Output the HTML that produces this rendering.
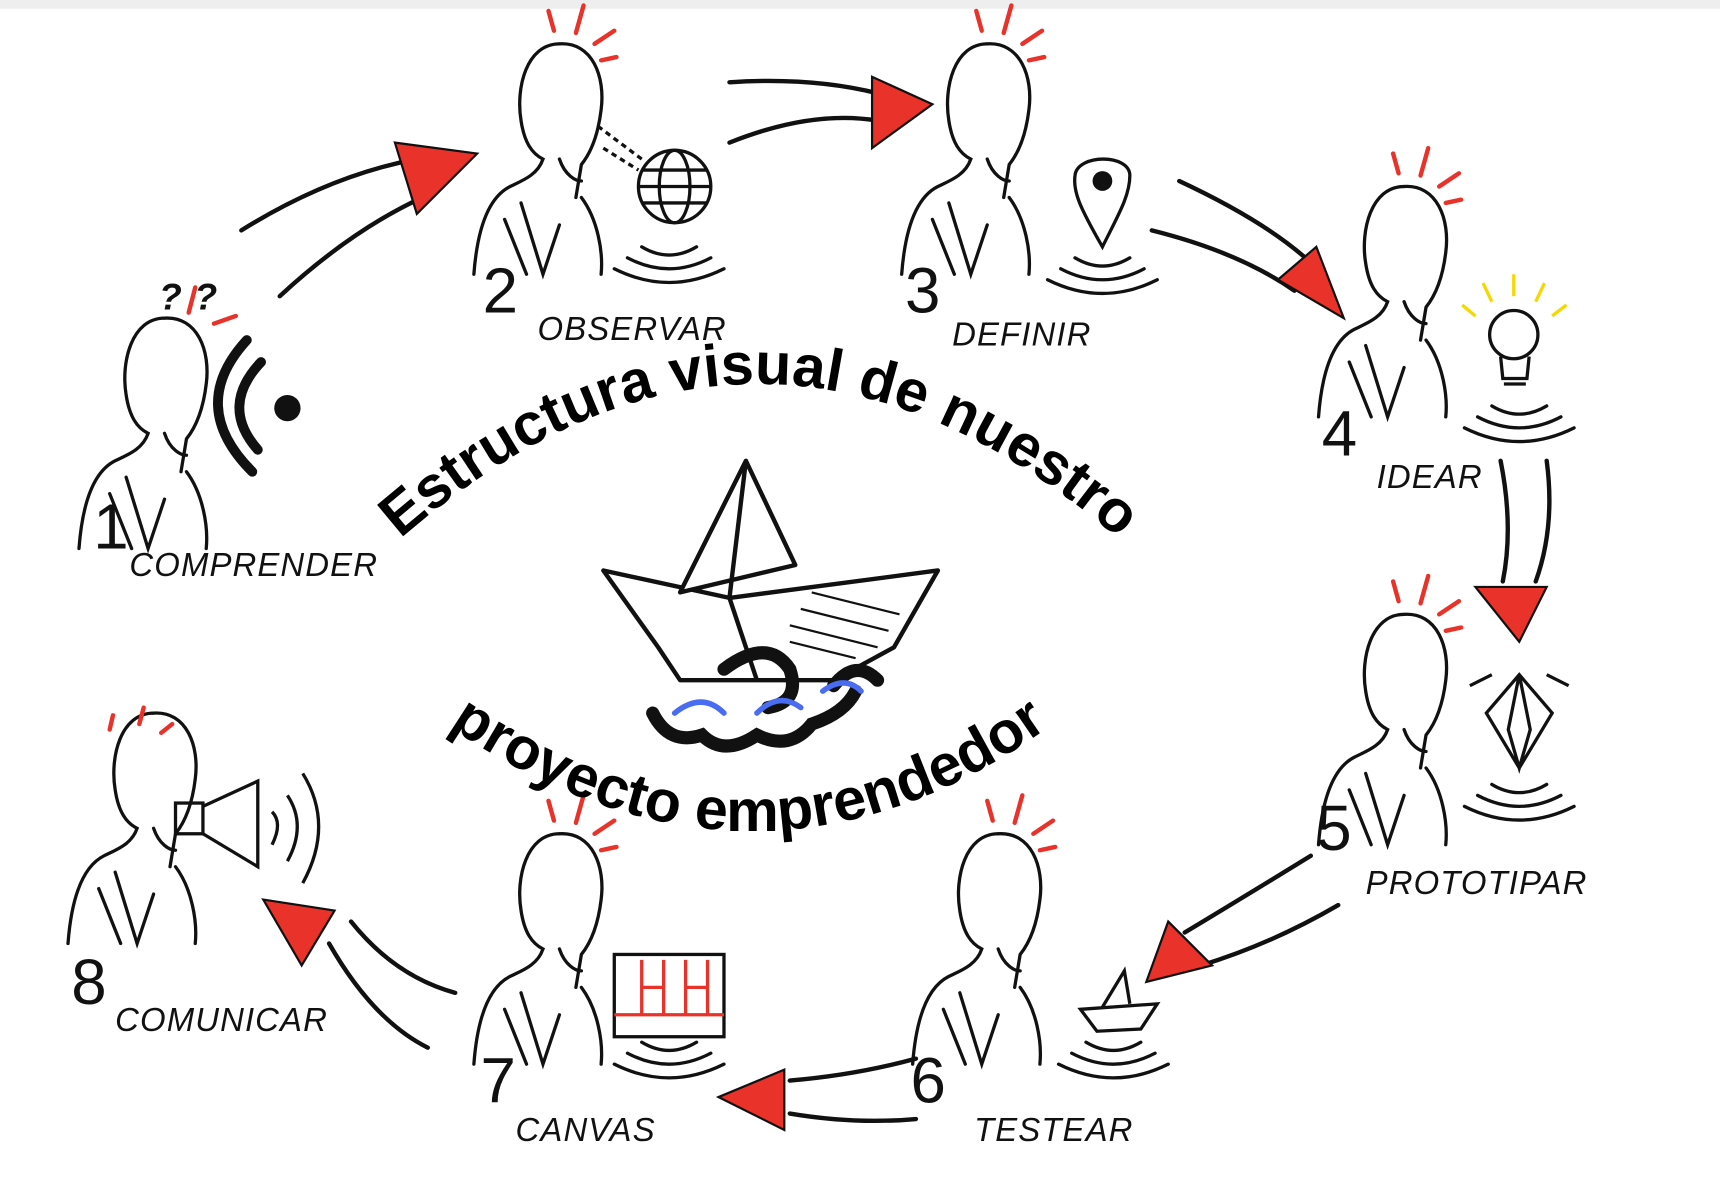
<!DOCTYPE html>
<html><head><meta charset="utf-8"><style>
html,body{margin:0;padding:0;background:#fff;}
svg{display:block;}
.lbl{font-family:"Liberation Sans",sans-serif;font-size:30px;fill:#111;font-style:italic;letter-spacing:1px;}
.num{font-family:"Liberation Sans",sans-serif;font-size:58px;fill:#111;}
.ttl{font-family:"Liberation Sans",sans-serif;font-weight:bold;font-size:54px;fill:#000;}
</style></head><body>
<svg width="1720" height="1198" viewBox="0 0 1568 1092" preserveAspectRatio="none" xmlns="http://www.w3.org/2000/svg">
<defs>
<g id="p" fill="none" stroke="#111" stroke-width="3" stroke-linecap="round">
<path d="M40,-70 C10,-70 0,-30 5,0 C8,20 15,30 25,35 C20,50 5,55 -5,60 C-25,70 -35,100 -38,140"/>
<path d="M40,-70 C70,-72 82,-40 78,-10 C75,15 68,30 60,40 L55,70"/>
<path d="M5,75 L25,140 L40,95 M-10,90 L10,140 M60,70 C75,90 80,120 78,140"/>
<path d="M40,35 C45,50 55,55 60,55"/>
</g>
<g id="r" stroke="#e8322a" stroke-width="4" stroke-linecap="round">
<line x1="35" y1="-82" x2="30" y2="-100"/><line x1="55" y1="-80" x2="62" y2="-105"/><line x1="72" y1="-70" x2="90" y2="-82"/><line x1="78" y1="-55" x2="92" y2="-58"/>
</g>
<g id="w" fill="none" stroke="#111" stroke-width="3" stroke-linecap="round">
<path d="M-25,0 Q0,15 25,0 M-38,10 Q0,30 38,10 M-50,20 Q0,45 50,20"/>
</g>
</defs>
<rect x="0" y="0" width="1568" height="1092" fill="#fff"/>
<rect x="0" y="0" width="1568" height="8" fill="#eee"/>

<use href="#p" x="110" y="360"/>
<use href="#p" x="470" y="110"/><use href="#r" x="470" y="110"/>
<use href="#p" x="860" y="110"/><use href="#r" x="860" y="110"/>
<use href="#p" x="1240" y="240"/><use href="#r" x="1240" y="240"/>
<use href="#p" x="1240" y="630"/><use href="#r" x="1240" y="630"/>
<use href="#p" x="870" y="830"/><use href="#r" x="870" y="830"/>
<use href="#p" x="470" y="830"/><use href="#r" x="470" y="830"/>
<use href="#p" x="100" y="720"/>
<g stroke="#e8322a" stroke-width="4" stroke-linecap="round"><line x1="100" y1="665" x2="103" y2="652"/><line x1="127" y1="660" x2="131" y2="645"/><line x1="147" y1="668" x2="157" y2="660"/>
<line x1="172" y1="285" x2="178" y2="262"/><line x1="195" y1="295" x2="215" y2="288"/></g>
<text x="145" y="282" class="lbl" style="font-size:34px;font-weight:bold">? ?</text>

<g fill="none" stroke="#111" stroke-width="3">
<circle cx="615" cy="170" r="33"/><ellipse cx="615" cy="170" rx="14" ry="33"/><line x1="582" y1="170" x2="648" y2="170"/><line x1="586" y1="155" x2="644" y2="155"/><line x1="586" y1="185" x2="644" y2="185"/>
<path d="M545,115 L585,145 M550,135 L582,155" stroke-dasharray="5 4"/>
<path d="M1005,225 C985,190 978,175 980,160 C982,140 1030,140 1030,160 C1030,178 1020,195 1005,225Z" fill="#fff"/>
<circle cx="1380" cy="305" r="22"/><path d="M1368,325 L1370,345 L1392,345 L1394,325 M1371,350 L1391,350"/>
<path d="M1385,615 L1355,650 L1385,700 L1415,650 Z M1385,615 L1375,665 L1385,700 L1395,665 Z"/>
<path d="M1340,625 L1360,615 M1430,625 L1410,615"/>
<rect x="560" y="870" width="100" height="75"/><path d="M560,925 L660,925 M585,875 L585,925 M605,875 L605,925 M585,900 L605,900 M625,875 L625,925 M645,875 L645,925 M625,900 L645,900" stroke="#e8322a"/>
<path d="M985,920 L1055,915 L1040,938 L1000,940 Z M1005,918 L1025,885 L1030,915"/>
<rect x="160" y="732" width="25" height="28"/><path d="M185,735 L235,712 L235,790 L185,760"/>
<path d="M248,740 Q258,750 248,770 M262,725 Q280,752 262,785 M276,705 Q305,752 276,805"/>
</g>
<circle cx="1005" cy="165" r="9" fill="#111"/>
<g fill="none" stroke="#111" stroke-width="9" stroke-linecap="round"><path d="M238,330 Q200,370 235,410 M225,310 Q170,370 230,430"/></g>
<circle cx="262" cy="372" r="12" fill="#111"/>
<g stroke="#f5d800" stroke-width="3"><line x1="1380" y1="270" x2="1380" y2="250"/><line x1="1360" y1="275" x2="1352" y2="258"/><line x1="1400" y1="275" x2="1408" y2="258"/><line x1="1415" y1="288" x2="1428" y2="278"/><line x1="1345" y1="288" x2="1333" y2="278"/></g>
<use href="#w" x="610" y="225"/><use href="#w" x="1005" y="235"/><use href="#w" x="1385" y="370"/><use href="#w" x="1385" y="715"/><use href="#w" x="1015" y="950"/><use href="#w" x="610" y="950"/>

<text x="85" y="500" class="num">1</text><text x="118" y="525" class="lbl">COMPRENDER</text>
<text x="440" y="285" class="num">2</text><text x="490" y="310" class="lbl">OBSERVAR</text>
<text x="825" y="285" class="num">3</text><text x="868" y="315" class="lbl">DEFINIR</text>
<text x="1205" y="415" class="num">4</text><text x="1255" y="445" class="lbl">IDEAR</text>
<text x="1200" y="775" class="num">5</text><text x="1245" y="815" class="lbl">PROTOTIPAR</text>
<text x="830" y="1005" class="num">6</text><text x="888" y="1040" class="lbl">TESTEAR</text>
<text x="438" y="1005" class="num">7</text><text x="470" y="1040" class="lbl">CANVAS</text>
<text x="65" y="915" class="num">8</text><text x="105" y="940" class="lbl">COMUNICAR</text>

<g fill="none" stroke="#111" stroke-width="4" stroke-linecap="round">
<path d="M220,210 Q300,160 380,145"/><path d="M255,270 Q320,210 385,180"/>
<path d="M665,75 Q740,70 800,85"/><path d="M665,130 Q740,100 800,110"/>
<path d="M1075,165 Q1150,200 1190,235"/><path d="M1050,210 Q1130,230 1180,265"/>
<path d="M1410,420 Q1418,480 1400,530"/><path d="M1368,420 Q1380,480 1370,530"/>
<path d="M1195,780 Q1130,820 1080,850"/><path d="M1220,825 Q1160,860 1095,880"/>
<path d="M835,965 Q780,980 720,985"/><path d="M835,1020 Q780,1025 720,1015"/>
<path d="M390,955 Q340,930 300,860"/><path d="M415,905 Q360,890 320,840"/>
</g>
<g fill="#e8322a" stroke="#111" stroke-width="2">
<path d="M435,140 L360,130 L380,195 Z"/>
<path d="M850,95 L795,70 L795,135 Z"/>
<path d="M1225,290 L1165,255 L1200,225 Z"/>
<path d="M1385,585 L1345,535 L1410,535 Z"/>
<path d="M1045,895 L1065,840 L1105,880 Z"/>
<path d="M655,1000 L715,975 L715,1030 Z"/>
<path d="M240,820 L305,830 L275,880 Z"/>
</g>

<path id="t1" d="M355,500 Q690,200 1030,500" fill="none"/>
<path id="t2" d="M385,645 Q690,870 980,645" fill="none"/>
<text class="ttl"><textPath href="#t1" startOffset="50%" text-anchor="middle">Estructura visual de nuestro</textPath></text>
<text class="ttl"><textPath href="#t2" startOffset="50%" text-anchor="middle">proyecto emprendedor</textPath></text>

<g fill="none" stroke="#111" stroke-width="4" stroke-linejoin="round">
<path d="M550,520 L665,545 L855,520 L815,590 L760,620 L620,620 L600,590 Z" fill="#fff"/>
<path d="M620,540 L680,420 L725,515 Z" fill="#fff"/>
<path d="M680,420 L665,545 L690,620"/>
</g>
<g stroke="#111" stroke-width="2"><line x1="740" y1="540" x2="820" y2="560"/><line x1="730" y1="555" x2="810" y2="575"/><line x1="720" y1="570" x2="800" y2="590"/><line x1="720" y1="585" x2="780" y2="600"/></g>
<g fill="none" stroke="#111" stroke-width="12" stroke-linecap="round">
<path d="M595,650 Q610,680 640,670 Q660,690 690,670 Q720,685 740,660 Q770,650 780,630"/>
<path d="M660,610 Q700,580 720,610 Q730,640 700,645"/>
<path d="M760,625 Q780,600 800,620"/>
</g>
<g fill="none" stroke="#4a6cf0" stroke-width="5" stroke-linecap="round">
<path d="M615,650 Q640,630 660,650 M690,650 Q710,630 730,645 M750,630 Q770,615 785,630"/>
</g>
</svg>
</body></html>
